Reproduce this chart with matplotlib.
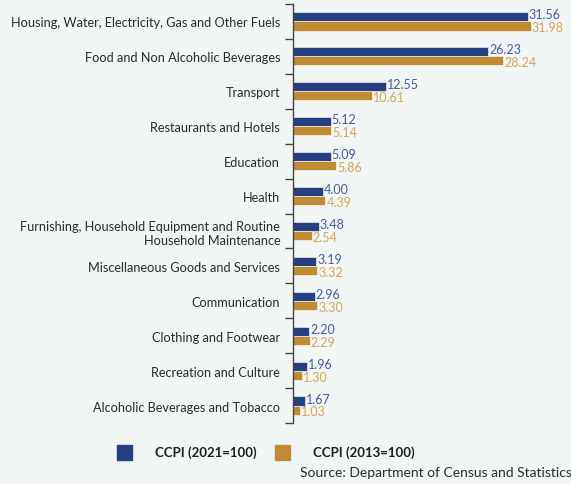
import numpy as np
import matplotlib
matplotlib.use("Agg")
import matplotlib.pyplot as plt
from matplotlib.patches import Rectangle

# ── DATA ──────────────────────────────────────────────────
categories = [
    "Housing, Water, Electricity, Gas and Other Fuels",
    "Food and Non Alcoholic Beverages",
    "Transport",
    "Restaurants and Hotels",
    "Education",
    "Health",
    "Furnishing, Household Equipment and Routine\nHousehold Maintenance",
    "Miscellaneous Goods and Services",
    "Communication",
    "Clothing and Footwear",
    "Recreation and Culture",
    "Alcoholic Beverages and Tobacco",
]
ccpi_2021 = [31.56, 26.23, 12.55, 5.12, 5.09, 4.00, 3.48, 3.19, 2.96, 2.20, 1.96, 1.67]
ccpi_2013 = [31.98, 28.24, 10.61, 5.14, 5.86, 4.39, 2.54, 3.32, 3.30, 2.29, 1.30, 1.03]
series_names = ["CCPI (2021=100)", "CCPI (2013=100)"]
source = "Source: Department of Census and Statistics"

# ── STYLE ─────────────────────────────────────────────────
BG = "#f1f6f5"
BLUE, GOLD = "#253f80", "#bf8c33"
BLUE_TXT, GOLD_TXT = "#4a5a9c", "#d2a558"
FONT = "Lato"
plt.rcParams["font.family"] = [FONT, "DejaVu Sans"]

W, H = 571, 485
fig = plt.figure(figsize=(W / 100, H / 100), dpi=100, facecolor=BG)
ax = fig.add_axes([292.7 / W, 1 - 424 / H, (560 - 292.7) / W, 419 / H])
ax.set_facecolor(BG)

n = len(categories)
y = np.arange(n)
bh = 0.26
ax.barh(y - bh / 2, ccpi_2021, height=bh, color=BLUE, edgecolor="white", linewidth=0.4)
ax.barh(y + bh / 2, ccpi_2013, height=bh, color=GOLD, edgecolor="white", linewidth=0.4)

for yi, v in zip(y, ccpi_2021):
    ax.text(v + 0.12, yi - bh / 2 - 0.07, f"{v:.2f}", va="center", ha="left",
            color=BLUE_TXT, fontsize=9)
for yi, v in zip(y, ccpi_2013):
    ax.text(v + 0.12, yi + bh / 2 + 0.04, f"{v:.2f}", va="center", ha="left",
            color=GOLD_TXT, fontsize=9)

ax.set_xlim(0, 267.3 / 7.45)
ax.set_ylim(n - 0.5, -0.5)
ax.set_yticks(y)
ax.set_yticklabels(categories, fontsize=9.2, color="#2b2b2b", linespacing=1.25)
ax.set_yticks(np.arange(n + 1) - 0.5, minor=True)
ax.tick_params(axis="y", which="major", length=0, pad=9)
ax.tick_params(axis="y", which="minor", length=6, width=1, color="#444444")
ax.set_xticks([])
for s in ["top", "right", "bottom"]:
    ax.spines[s].set_visible(False)
ax.spines["left"].set_color("#444444")
ax.spines["left"].set_linewidth(1)
for lbl in ax.get_yticklabels():
    lbl.set_horizontalalignment("right")

# legend
for x0, col, name, tx in [(117, BLUE, series_names[0], 155), (275, GOLD, series_names[1], 313)]:
    fig.patches.append(Rectangle((x0 / W, 1 - 461 / H), 15 / W, 15 / H,
                                 transform=fig.transFigure, color=col))
    fig.text(tx / W, 1 - 453 / H, name, ha="left", va="center", fontsize=9.5,
             fontweight="bold", color="#1e1e1e")

fig.text(300 / W, 1 - 473 / H, source, ha="left", va="center", fontsize=10, color="#2b2b2b")

fig.savefig("out.png", dpi=100, facecolor=BG)
